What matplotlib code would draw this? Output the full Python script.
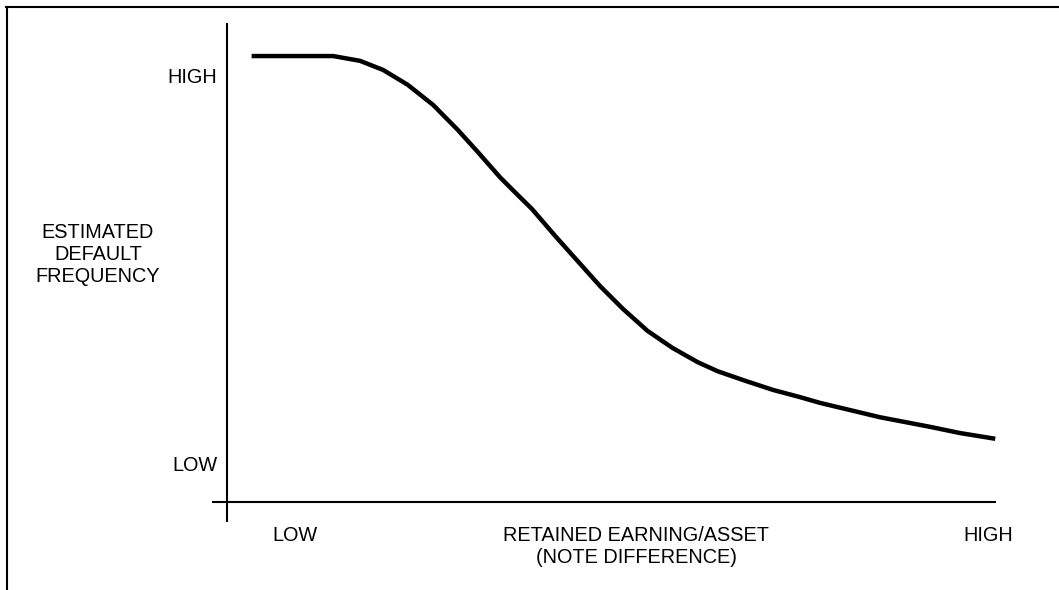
import matplotlib
matplotlib.use("Agg")
import matplotlib.pyplot as plt
from matplotlib.lines import Line2D

plt.rcParams["font.family"] = ["Liberation Sans", "DejaVu Sans"]

# curve, both axes on a 0..100 scale
x_vals = [3.2, 13.8, 17.3, 20.3, 23.5, 26.8, 30.0, 32.6, 35.5, 37.3, 39.7,
          42.7, 45.6, 48.5, 51.5, 54.7, 57.9, 61.2, 63.8, 67.4, 71.0, 74.5,
          77.1, 81.0, 84.9, 87.5, 91.4, 95.3, 99.9]
y_vals = [93.1, 93.1, 92.1, 90.2, 87.1, 82.9, 77.7, 73.1, 67.8, 64.9, 61.1,
          55.5, 50.3, 45.1, 40.3, 35.7, 32.2, 29.2, 27.3, 25.3, 23.4, 21.9,
          20.7, 19.2, 17.7, 16.9, 15.7, 14.4, 13.2]

y_ticks = [8.1, 89.1]
y_ticklabels = ["LOW", "HIGH"]
x_ticks = [8.8, 53.2, 99.0]
x_ticklabels = ["LOW", "RETAINED EARNING/ASSET\n(NOTE DIFFERENCE)", "HIGH"]
y_title = "ESTIMATED\nDEFAULT\nFREQUENCY"

W, H = 1059, 590
FS = 14.3

fig = plt.figure(figsize=(W / 100, H / 100), dpi=100)
fig.patch.set_facecolor("white")

# outer frame (top and left edges only)
fig.add_artist(Line2D([6 / W, 1.0], [1 - 7 / H, 1 - 7 / H], color="black", lw=1.5))
fig.add_artist(Line2D([7 / W, 7 / W], [0.0, 1 - 7 / H], color="black", lw=1.5))

ax = fig.add_axes([227 / W, (H - 502) / H, (996 - 227) / W, (502 - 23) / H])
ax.set_xlim(0, 100)
ax.set_ylim(0, 100)
for s in ax.spines.values():
    s.set_visible(False)
ax.patch.set_alpha(0)

# axis lines, crossing a little past the origin
ax.plot([0, 0], [-4.2, 100], color="black", lw=1.5, clip_on=False,
        solid_capstyle="butt")
ax.plot([-2.0, 100], [0, 0], color="black", lw=1.5, clip_on=False,
        solid_capstyle="butt")

ax.plot(x_vals, y_vals, color="black", lw=3.2, clip_on=False,
        solid_capstyle="butt", solid_joinstyle="round")

ax.set_yticks(y_ticks, y_ticklabels, fontsize=FS)
ax.set_xticks(x_ticks, x_ticklabels, fontsize=FS)
ax.tick_params(axis="y", length=0, pad=7)
ax.tick_params(axis="x", length=0, pad=17.5)

fig.text(98 / W, 1 - 255 / H, y_title, ha="center", va="center",
         multialignment="center", fontsize=FS, linespacing=1.2)

fig.savefig("out.png", dpi=100, facecolor="white")
